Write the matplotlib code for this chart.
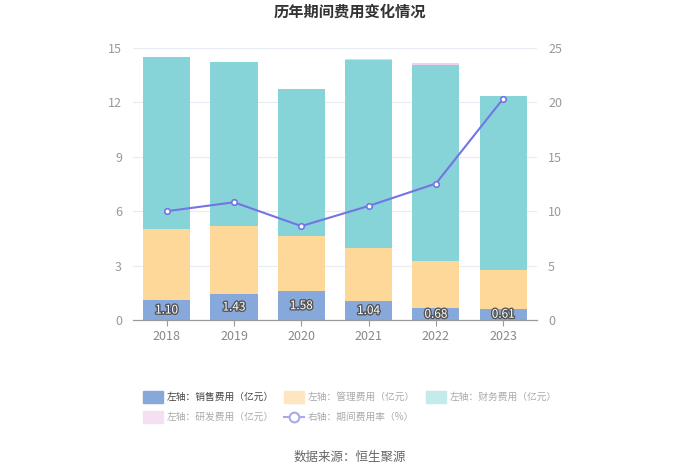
import numpy as np
import matplotlib.pyplot as plt
from matplotlib.patches import Rectangle
from matplotlib.lines import Line2D
import matplotlib.patheffects as pe

plt.rcParams['font.family'] = ['Noto Sans CJK SC', 'DejaVu Sans']

# Data
years = ["2018", "2019", "2020", "2021", "2022", "2023"]
sales = [1.10, 1.43, 1.58, 1.04, 0.68, 0.61]
admin = [3.90, 3.75, 3.07, 2.94, 2.59, 2.17]
finance = [9.50, 9.06, 8.11, 10.38, 10.81, 9.57]
rnd = [0.0, 0.0, 0.0, 0.05, 0.07, 0.0]
rate = [10.0, 10.82, 8.63, 10.48, 12.54, 20.35]

c_sales = "#86a8da"
c_admin = "#fdd899"
c_fin = "#86d4d8"
c_rnd = "#ecd2ea"
c_line = "#7474e4"

fig = plt.figure(figsize=(7, 4.73), dpi=100)
ax = fig.add_axes([0.19, 0.3235, 0.577, 0.575])
ax2 = ax.twinx()

x = np.arange(len(years))
w = 0.7
sales = np.array(sales)
admin = np.array(admin)
finance = np.array(finance)
rnd = np.array(rnd)
ax.bar(x, sales, w, color=c_sales, zorder=2)
ax.bar(x, admin, w, bottom=sales, color=c_admin, zorder=2)
ax.bar(x, finance, w, bottom=sales + admin, color=c_fin, zorder=2)
ax.bar(x, rnd, w, bottom=sales + admin + finance, color=c_rnd, zorder=2)

for xi, v in zip(x, sales):
    ax.text(xi, v / 2 if v > 0.9 else 0.32, f"{v:.2f}", ha="center", va="center",
            fontsize=8.5, color="white", zorder=5,
            path_effects=[pe.withStroke(linewidth=2, foreground="#555555")])

ax2.plot(x, rate, color=c_line, lw=1.5, marker="o", ms=4, mfc="white",
         mec=c_line, mew=1.2, zorder=4)

ax.set_xlim(-0.5, 5.5)
ax.set_ylim(0, 15)
ax.set_yticks([0, 3, 6, 9, 12, 15])
ax2.set_ylim(0, 25)
ax2.set_yticks([0, 5, 10, 15, 20, 25])
ax.set_xticks(x)
ax.set_xticklabels(years)
ax.grid(axis="y", color="#e8ecf4", lw=0.8, zorder=0)
ax.set_axisbelow(True)
for a in (ax, ax2):
    for s in ["top", "right", "left"]:
        a.spines[s].set_visible(False)
    a.spines["bottom"].set_color("#999999")
    a.tick_params(axis="y", length=0, labelsize=9, labelcolor="#999999", pad=8)
ax.tick_params(axis="x", length=4, color="#999999", labelsize=9, labelcolor="#888888")
ax.set_zorder(ax2.get_zorder() - 1)
ax2.patch.set_visible(False)
ax.patch.set_visible(False)

fig.text(0.5, 0.975, "历年期间费用变化情况", ha="center", va="center",
         fontsize=11, fontweight="bold", color="#333333")
fig.text(0.5, 0.034, "数据来源：恒生聚源", ha="center", va="center",
         fontsize=9, color="#666666")

# Legend
items = [
    (143, 397, "patch", "#86a8da", "左轴：销售费用（亿元）", "#444444"),
    (284, 397, "patch", "#fde6c0", "左轴：管理费用（亿元）", "#aaaaaa"),
    (426, 397, "patch", "#c4eaec", "左轴：财务费用（亿元）", "#aaaaaa"),
    (143, 417, "patch", "#f4e0f2", "左轴：研发费用（亿元）", "#aaaaaa"),
    (284, 417, "line", "#a8a8ee", "右轴：期间费用率（%）", "#aaaaaa"),
]
H = 473.0
for px, py, kind, col, label, tcol in items:
    if kind == "patch":
        fig.patches.append(Rectangle((px / 700, (H - py - 6) / H), 20 / 700, 12 / H,
                                     transform=fig.transFigure, color=col,
                                     figure=fig))
    else:
        fig.lines.append(Line2D([px / 700, (px + 20) / 700], [(H - py) / H] * 2,
                                transform=fig.transFigure, color=col, lw=1.5,
                                figure=fig))
        fig.lines.append(Line2D([(px + 10) / 700], [(H - py) / H],
                                transform=fig.transFigure, color=col, marker="o",
                                ms=7, mfc="white", mec=col, mew=1.5, figure=fig))
    fig.text((px + 24) / 700, (H - py) / H, label, ha="left", va="center",
             fontsize=7, color=tcol)

fig.savefig("out.png", dpi=100)
